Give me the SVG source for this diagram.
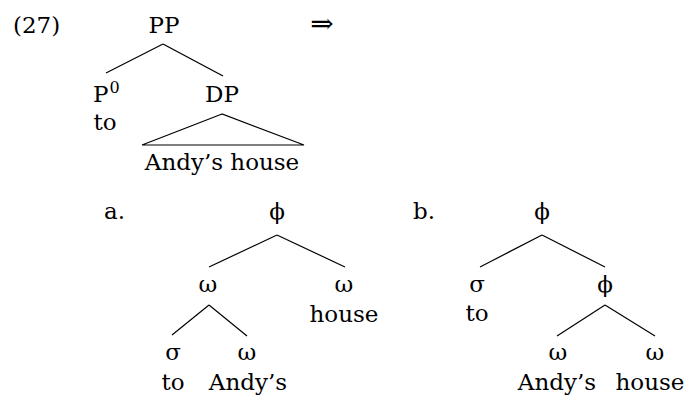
<svg xmlns="http://www.w3.org/2000/svg" width="687" height="397" viewBox="0 0 687 397">
<style>
text{font-family:'DejaVu Serif',serif;font-size:23px;fill:#000;text-anchor:middle}
.l{text-anchor:start}
.sup{font-size:16px}
.arr{font-size:28px}
line,polygon{stroke:#000;stroke-width:1.2;fill:none}
</style>
<rect width="687" height="397" fill="#fff"/>
<g id="labels">
<text class="l" x="13" y="33">(27)</text>
<text class="arr" x="322" y="33">⇒</text>
<text class="l" x="104" y="219">a.</text>
<text class="l" x="413" y="219">b.</text>
</g>
<g id="connectors">
<line x1="163" y1="44" x2="106" y2="73"/>
<line x1="163" y1="44" x2="223" y2="76"/>
<polygon points="222,114 142,145 304,145"/>
<line x1="277" y1="235" x2="209" y2="267"/>
<line x1="277" y1="235" x2="345" y2="267"/>
<line x1="209" y1="305" x2="172" y2="335"/>
<line x1="209" y1="305" x2="247" y2="336"/>
<line x1="542" y1="235" x2="480" y2="267"/>
<line x1="542" y1="235" x2="605" y2="267"/>
<line x1="605" y1="305" x2="557" y2="336"/>
<line x1="605" y1="305" x2="655" y2="336"/>
</g>
<g id="PP"><text x="164" y="33">PP</text></g>
<g id="P0"><text class="l" x="93" y="102">P<tspan class="sup" dx="1" dy="-9">0</tspan></text><text x="105" y="130">to</text></g>
<g id="DP"><text x="222" y="102">DP</text><text x="222" y="170">Andy’s house</text></g>
<g id="a-phi"><text x="277" y="219">ϕ</text></g>
<g id="a-omega1"><text x="208" y="292">ω</text></g>
<g id="a-omega2"><text x="344" y="292">ω</text><text x="344" y="322">house</text></g>
<g id="a-sigma"><text x="173" y="360">σ</text><text x="173" y="390">to</text></g>
<g id="a-omega3"><text x="247" y="360">ω</text><text x="248" y="390">Andy’s</text></g>
<g id="b-phi"><text x="542" y="219">ϕ</text></g>
<g id="b-sigma"><text x="477" y="292">σ</text><text x="477" y="321">to</text></g>
<g id="b-phi2"><text x="605" y="292">ϕ</text></g>
<g id="b-omega1"><text x="558" y="360">ω</text><text x="557" y="390">Andy’s</text></g>
<g id="b-omega2"><text x="655" y="360">ω</text><text x="650" y="390">house</text></g>
</svg>
